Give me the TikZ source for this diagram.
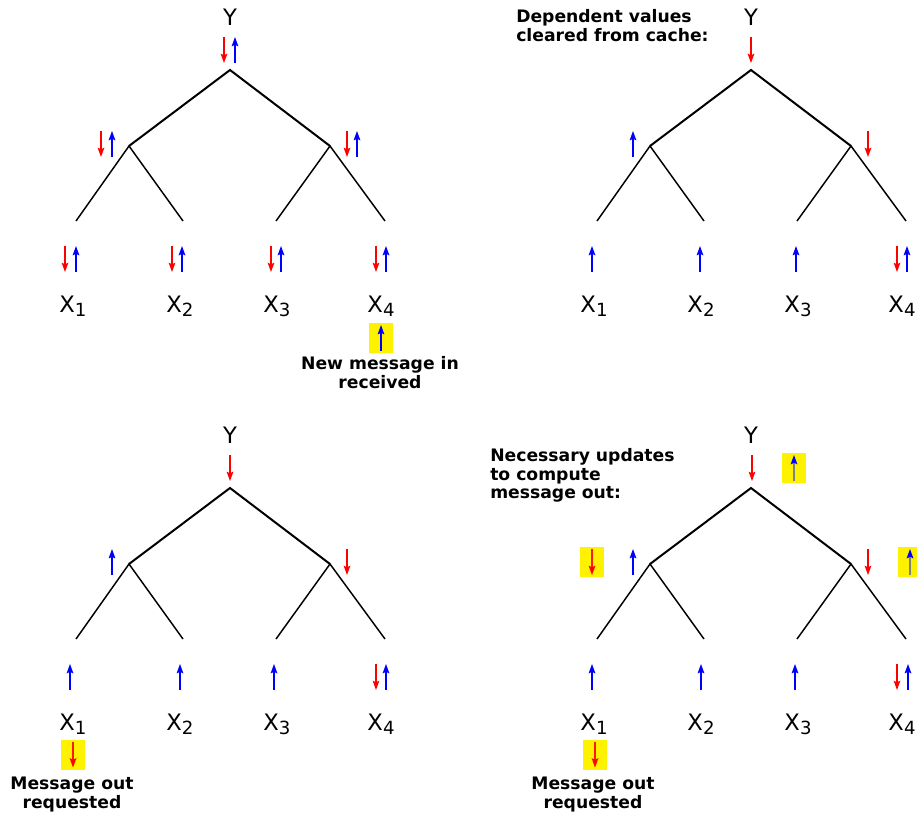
\documentclass[tikz,border=0pt]{standalone}
\usepackage{fontspec}
\setmainfont{DejaVu Sans}
\usetikzlibrary{arrows.meta}
\newcommand\Xs[1]{X\raisebox{-3.6pt}{\fontsize{13.6}{14}\selectfont #1}}
\tikzset{
  arr/.style={line width=0.95pt, -{Stealth[length=7pt,width=5pt,inset=1.2pt]}},
  msgdn/.style={arr, red},
  msgup/.style={arr, blue},
  hlmsgdn/.style={arr, draw=red!80!orange, -{Stealth[length=7pt,width=5pt,inset=1.2pt,color=red]}},
  hlmsgup/.style={arr, draw=gray, -{Stealth[length=7pt,width=5pt,inset=1.2pt,color=blue]}},
  trunk/.style={line width=1.5pt},
  branch/.style={line width=1.1pt},
  varlabel/.style={font=\fontsize{17}{20}\selectfont, inner sep=0pt, anchor=base},
  note/.style={font=\fontsize{12.9}{14}\selectfont\bfseries, inner sep=0pt},
  hl/.style={fill=yellow, draw=none, minimum width=18pt, minimum height=22.5pt, inner sep=0pt},
  dnarr/.pic={\draw[msgdn] (0,-13) -- (0,13);},
  uparr/.pic={\draw[msgup] (0,13) -- (0,-13);},
  hldn/.pic={\node[hl] (-box) {}; \draw[msgdn] (0,-13) -- (0,13);},
  hlup/.pic={\node[hl] (-box) {}; \draw[msgup] (0,13) -- (0,-13);},
  hldng/.pic={\node[hl] (-box) {}; \draw[hlmsgdn] (0,-13) -- (0,13);},
  hlupg/.pic={\node[hl] (-box) {}; \draw[hlmsgup] (0,13) -- (0,-13);},
}
\newcommand\drawtree{%
  \node[varlabel] (Y) at (230,25) {Y};
  \coordinate (root) at (230,70);
  \coordinate (L) at (129,146);
  \coordinate (R) at (330,146);
  \coordinate (l1) at (76,221);
  \coordinate (l2) at (183,221);
  \coordinate (l3) at (276,221);
  \coordinate (l4) at (385,221);
  \draw[trunk] (L) -- (root) -- (R);
  \draw[branch] (l1) -- (L) -- (l2);
  \draw[branch] (l3) -- (R) -- (l4);
  \node[varlabel] (x1) at (73,312) {\Xs{1}};
  \node[varlabel] (x2) at (180,312) {\Xs{2}};
  \node[varlabel] (x3) at (277,312) {\Xs{3}};
  \node[varlabel] (x4) at (381,312) {\Xs{4}};
}
\begin{document}
\begin{tikzpicture}[x=0.75pt, y=-0.75pt]
\useasboundingbox (0,0) rectangle (917,818);

% ---------- top left ----------
\begin{scope}[name prefix=tl-]
  \drawtree
  \pic at (224,50) {dnarr}; \pic at (235,50) {uparr};
  \pic at (101,144) {dnarr}; \pic at (112,144) {uparr};
  \pic at (347,144) {dnarr}; \pic at (357,144) {uparr};
  \pic at (65,259) {dnarr}; \pic at (76,259) {uparr};
  \pic at (172,259) {dnarr}; \pic at (182,259) {uparr};
  \pic at (271,259) {dnarr}; \pic at (281,259) {uparr};
  \pic at (376,259) {dnarr}; \pic at (386,259) {uparr};
  \pic (newin) at (381,338) {hlup};
  \node[note, align=center, anchor=north] (newnote) at (380,356) {New message in\\received};
\end{scope}

% ---------- top right ----------
\begin{scope}[shift={(521,0)}, name prefix=tr-]
  \drawtree
  \pic at (230,50) {dnarr};
  \pic at (112,144) {uparr};
  \pic at (347,144) {dnarr};
  \pic at (71,259) {uparr};
  \pic at (179,259) {uparr};
  \pic at (275,259) {uparr};
  \pic at (376,259) {dnarr}; \pic at (386,259) {uparr};
  \node[note, align=left, anchor=north west] (depnote) at (-5,9) {Dependent values\\cleared from cache:};
\end{scope}

% ---------- bottom left ----------
\begin{scope}[shift={(0,418)}, name prefix=bl-]
  \drawtree
  \pic at (230,50) {dnarr};
  \pic at (112,144) {uparr};
  \pic at (347,144) {dnarr};
  \pic at (70,259) {uparr};
  \pic at (180,259) {uparr};
  \pic at (274,259) {uparr};
  \pic at (376,259) {dnarr}; \pic at (386,259) {uparr};
  \pic (out) at (73,336.5) {hldng};
  \node[note, align=center, anchor=north] (outnote) at (72,359) {Message out\\requested};
\end{scope}

% ---------- bottom right ----------
\begin{scope}[shift={(521,418)}, name prefix=br-]
  \drawtree
  \pic at (231,50) {dnarr};
  \pic (yup) at (273,50) {hlupg};
  \pic (ldn) at (71,144) {hldng};
  \pic at (112,144) {uparr};
  \pic at (347,144) {dnarr};
  \pic (rup) at (389,144) {hlupg};
  \pic at (71,259) {uparr};
  \pic at (180,259) {uparr};
  \pic at (274,259) {uparr};
  \pic at (376,259) {dnarr}; \pic at (387,259) {uparr};
  \pic (out) at (74,336.5) {hldng};
  \node[note, align=center, anchor=north] (outnote) at (72,359) {Message out\\requested};
  \node[note, align=left, anchor=north west] (necnote) at (-31,30) {Necessary updates\\to compute\\message out:};
\end{scope}
\end{tikzpicture}
\end{document}
